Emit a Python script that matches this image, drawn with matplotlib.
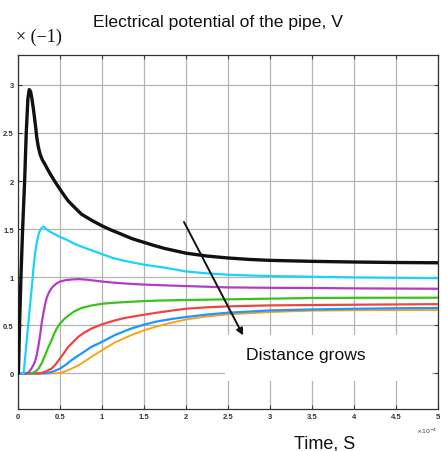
import numpy as np
import matplotlib
matplotlib.use("Agg")
import matplotlib.pyplot as plt
from matplotlib.patches import Rectangle
from matplotlib.ticker import FuncFormatter, MultipleLocator

# Time values in units of 1e-4 s, potential in volts (sign flipped)
t_black = [0, 0.005, 0.02, 0.035, 0.055, 0.079, 0.098, 0.118, 0.134, 0.15, 0.165, 0.18,
           0.197, 0.21, 0.224, 0.243, 0.264, 0.29, 0.323, 0.36, 0.40, 0.45, 0.5, 0.55,
           0.598, 0.68, 0.756, 0.88, 1.0, 1.11, 1.228, 1.36, 1.5, 1.62, 1.74, 1.87, 2.0,
           2.25, 2.5, 2.75, 3.0, 3.5, 4.0, 4.5, 5.0]
v_black = [0, 0.0, 0.55, 1.0, 1.5, 2.0, 2.5, 2.86, 2.95, 2.93, 2.86, 2.77,
           2.655, 2.56, 2.45, 2.35, 2.276, 2.22, 2.17, 2.11, 2.05, 1.98, 1.914, 1.85,
           1.793, 1.72, 1.655, 1.59, 1.534, 1.49, 1.448, 1.40, 1.362, 1.33, 1.30, 1.275,
           1.25, 1.22, 1.20, 1.185, 1.175, 1.165, 1.158, 1.153, 1.15]

t_cyan = [0, 0.067, 0.09, 0.11, 0.13, 0.15, 0.17, 0.185, 0.205, 0.225, 0.25, 0.275,
          0.303, 0.33, 0.362, 0.43, 0.5, 0.59, 0.677, 0.84, 1.0, 1.13, 1.268,
          1.5, 1.74, 2.0, 2.25, 2.5, 2.75, 3.0, 3.5, 4.0, 4.5, 5.0]
v_cyan = [0, 0, 0.21, 0.4, 0.58, 0.77, 0.95, 1.1, 1.26, 1.37, 1.46, 1.505,
          1.528, 1.505, 1.483, 1.45, 1.42, 1.385, 1.345, 1.29, 1.24, 1.20, 1.17,
          1.13, 1.10, 1.06, 1.04, 1.026, 1.018, 1.012, 1.005, 0.998, 0.994, 0.99]

t_purple = [0, 0.1, 0.126, 0.16, 0.185, 0.205, 0.225, 0.244, 0.265, 0.283, 0.303, 0.323,
            0.342, 0.362, 0.39, 0.421, 0.46, 0.5, 0.57, 0.638, 0.72, 0.8, 0.9, 1.0, 1.13,
            1.268, 1.46, 1.66, 2.0, 2.5, 3.0, 3.5, 4.0, 5.0]
v_purple = [0, 0, 0.01, 0.05, 0.09, 0.13, 0.2, 0.29, 0.41, 0.53, 0.63, 0.72,
            0.785, 0.83, 0.875, 0.907, 0.935, 0.955, 0.97, 0.976, 0.98, 0.976, 0.966,
            0.955, 0.944, 0.935, 0.925, 0.918, 0.908, 0.894, 0.89, 0.888, 0.884, 0.88]

t_green = [0, 0.15, 0.185, 0.215, 0.244, 0.285, 0.323, 0.36, 0.40, 0.43, 0.46, 0.5,
           0.55, 0.598, 0.67, 0.756, 0.87, 1.0, 1.13, 1.268, 1.46, 1.66, 2.0, 2.5, 3.0,
           3.5, 4.0, 5.0]
v_green = [0, 0, 0.01, 0.025, 0.05, 0.11, 0.19, 0.27, 0.345, 0.41, 0.465, 0.517,
           0.565, 0.60, 0.645, 0.68, 0.705, 0.724, 0.734, 0.741, 0.75, 0.757, 0.763,
           0.77, 0.777, 0.784, 0.786, 0.787]

t_red = [0, 0.24, 0.28, 0.33, 0.40, 0.45, 0.5, 0.55, 0.598, 0.66, 0.717, 0.79, 0.874,
         1.0, 1.13, 1.268, 1.5, 1.66, 1.83, 2.0, 2.25, 2.5, 3.0, 3.5, 4.0, 4.5, 5.0]
v_red = [0, 0, 0.005, 0.02, 0.05, 0.095, 0.155, 0.215, 0.276, 0.33, 0.38, 0.425, 0.466,
         0.51, 0.545, 0.576, 0.61, 0.632, 0.653, 0.672, 0.687, 0.697, 0.707, 0.711,
         0.714, 0.717, 0.72]

t_blue = [0, 0.32, 0.36, 0.42, 0.5, 0.57, 0.638, 0.7, 0.756, 0.874, 1.0, 1.15, 1.346,
          1.5, 1.66, 1.83, 2.0, 2.25, 2.5, 3.0, 3.5, 4.0, 4.5, 5.0]
v_blue = [0, 0, 0.005, 0.02, 0.05, 0.09, 0.138, 0.175, 0.207, 0.276, 0.328, 0.397,
          0.466, 0.507, 0.541, 0.566, 0.586, 0.612, 0.631, 0.655, 0.665, 0.672, 0.677,
          0.68]

t_orange = [0, 0.44, 0.5, 0.56, 0.638, 0.7, 0.756, 0.874, 1.0, 1.15, 1.346, 1.5, 1.66,
            1.83, 2.0, 2.25, 2.5, 3.0, 3.5, 4.0, 4.5, 5.0]
v_orange = [0, 0, 0.005, 0.02, 0.05, 0.075, 0.103, 0.172, 0.241, 0.32, 0.397, 0.448,
            0.49, 0.528, 0.56, 0.592, 0.613, 0.638, 0.652, 0.656, 0.658, 0.659]

series = [
    (t_black, v_black, "#111111", 2.4),
    (t_cyan, v_cyan, "#17d4f8", 1.6),
    (t_purple, v_purple, "#b23cc4", 1.6),
    (t_green, v_green, "#3cc21c", 1.6),
    (t_red, v_red, "#f04444", 1.6),
    (t_blue, v_blue, "#1e96ff", 1.6),
    (t_orange, v_orange, "#ff9c0a", 1.3),
]

plt.rcParams["font.family"] = ["Liberation Sans", "DejaVu Sans"]

fig = plt.figure(figsize=(4.41, 4.52), dpi=100)
ax = fig.add_axes([18 / 441, 1 - 410 / 452, 420 / 441, 354 / 452])

# Plot back-to-front so the black curve sits on top
for t, v, color, lw in reversed(series):
    ax.plot(np.array(t) * 1e-4, v, color=color, lw=lw, solid_capstyle="round",
            solid_joinstyle="round", zorder=3)

ax.set_xlim(0, 5e-4)
ax.set_ylim(-0.37, 3.31)
ax.xaxis.set_major_locator(MultipleLocator(0.5e-4))
ax.yaxis.set_major_locator(MultipleLocator(0.5))
ax.xaxis.set_major_formatter(FuncFormatter(lambda v, p: f"{round(v * 1e4, 2):g}"))
ax.yaxis.set_major_formatter(FuncFormatter(lambda v, p: f"{round(v, 2):g}"))

ax.grid(True, color="#b4b4b4", lw=0.9)
ax.set_axisbelow(True)
ax.tick_params(direction="in", length=3, width=0.8, color="#404040",
               labelsize=5.5, labelcolor="#333333", top=True, right=True, pad=3)
for lab in ax.get_xticklabels() + ax.get_yticklabels():
    lab.set_fontweight("bold")
for s in ax.spines.values():
    s.set_color("#303030")
    s.set_linewidth(0.9)

# White label panel with the annotation
ax.add_patch(Rectangle((2.47e-4, -0.075), 2.46e-4, 0.475, facecolor="white",
                       edgecolor="none", zorder=1))
ax.text(3.43e-4, 0.195, "Distance grows", fontsize=12.6, ha="center", va="center",
        color="#111111", zorder=4)
ax.annotate("", xy=(2.68e-4, 0.395), xytext=(1.976e-4, 1.574),
            arrowprops=dict(arrowstyle="-|>", color="#111111", lw=1.4,
                            mutation_scale=10, shrinkA=0, shrinkB=0), zorder=5)

fig.text(427 / 441, 1 - 431 / 452, r"$\times10^{-4}$", fontsize=4.5,
         ha="center", va="center", color="#404040")
fig.text(218 / 441, 1 - 22 / 452, "Electrical potential of the pipe, V",
         fontsize=12.6, ha="center", va="center", color="#111111")
fig.text(39 / 441, 1 - 37 / 452, "\u00d7 (\u22121)", fontsize=13,
         ha="center", va="center", color="#111111",
         family=["Liberation Serif", "DejaVu Serif"])
fig.text(324.5 / 441, 1 - 444 / 452, "Time, S", fontsize=13,
         ha="center", va="center", color="#111111")

fig.savefig("out.png", dpi=100)
